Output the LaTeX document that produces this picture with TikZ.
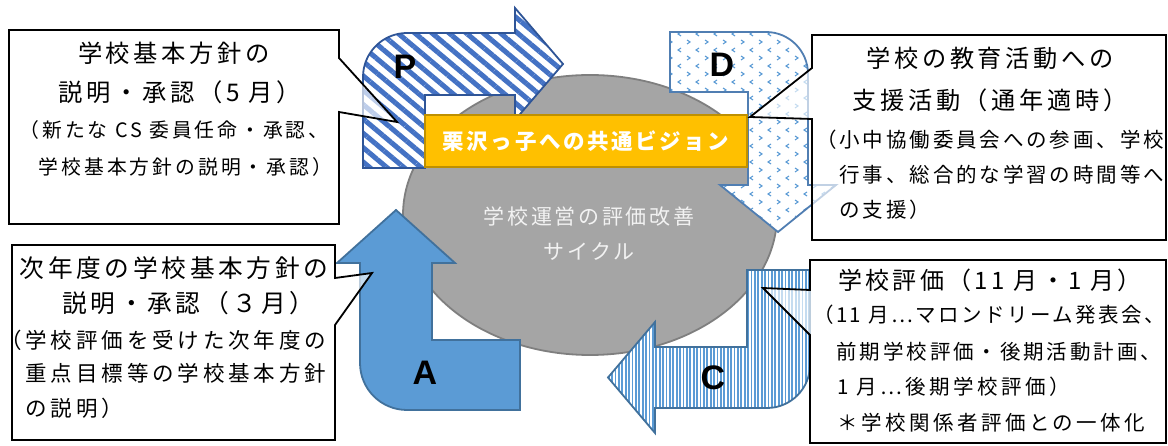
\documentclass[tikz,border=0pt]{standalone}
\usepackage{fontspec}
\newfontfamily\jp{Noto Sans CJK JP}
\newfontfamily\lat{Liberation Sans}
\usetikzlibrary{patterns,patterns.meta,shapes.geometric}

\pgfdeclarepatternformonly{divot}{\pgfqpoint{-1pt}{-1pt}}{\pgfqpoint{19pt}{17pt}}{\pgfqpoint{18pt}{16pt}}{%
  \pgfsetlinewidth{1.1pt}%
  \pgfpathmoveto{\pgfqpoint{3pt}{6pt}}\pgfpathlineto{\pgfqpoint{6pt}{4pt}}\pgfpathlineto{\pgfqpoint{3pt}{2pt}}%
  \pgfpathmoveto{\pgfqpoint{15pt}{14pt}}\pgfpathlineto{\pgfqpoint{12pt}{12pt}}\pgfpathlineto{\pgfqpoint{15pt}{10pt}}%
  \pgfusepath{stroke}}

\newcommand\jline[3]{\jp\fontsize{#1}{#1}\selectfont\addfontfeature{LetterSpace=#2}#3}
\newcommand\jbold[3]{\jp\bfseries\fontsize{#1}{#1}\selectfont\addfontfeature{LetterSpace=#2}#3}

\definecolor{pblue}{RGB}{68,114,196}
\definecolor{pline}{RGB}{47,85,151}
\definecolor{lblue}{RGB}{91,155,213}
\definecolor{aline}{RGB}{65,113,156}
\definecolor{dline}{RGB}{80,126,178}
\definecolor{ellfill}{RGB}{165,165,165}
\definecolor{elldraw}{RGB}{127,127,127}
\definecolor{gold}{RGB}{255,192,0}
\definecolor{golddk}{RGB}{191,144,0}
\definecolor{txtgray}{RGB}{242,242,242}

\begin{document}
\begin{tikzpicture}[x=1pt,y=-1pt,
  arrowline/.style={line width=1.8pt, line join=miter},
  callout/.style={draw=black, line width=1.8pt, fill=white, fill opacity=0.65, line join=miter},
  tl/.style={anchor=base, inner sep=0pt},
  tlw/.style={anchor=base west, inner sep=0pt},
  letter/.style={font=\lat\bfseries\fontsize{34}{34}\selectfont, inner sep=0pt},
  bannerbox/.style={draw=golddk, fill=gold, line width=2pt, minimum width=322pt, minimum height=52pt, inner sep=0pt, text=white}]
\useasboundingbox (0,0) rectangle (1168,446);

% central ellipse
\node[ellipse, fill=ellfill, draw=elldraw, line width=1.8pt, minimum width=374pt, minimum height=280pt, inner sep=0pt] (ell) at (590,215) {};

% P arrow
\draw[arrowline, draw=pline, preaction={fill=white},
      pattern={Lines[angle=-40,distance=11pt,line width=5pt]}, pattern color=pblue]
  (363,168) -- (363,77) .. controls (363,52.7) and (382.7,33) .. (407,33) -- (515,33) -- (515,8)
  -- (563,64) -- (515,120) -- (515,95) -- (425,95) -- (425,168) -- cycle;

% D arrow
\draw[arrowline, draw=dline, preaction={fill=white}, pattern=divot, pattern color=lblue]
  (670,32) -- (766,32) .. controls (789.2,32) and (808,50.8) .. (808,74) -- (808,185) -- (836,185)
  -- (778,232) -- (720,185) -- (748,185) -- (748,92) -- (670,92) -- cycle;

% A arrow
\draw[arrowline, draw=aline, fill=lblue]
  (396,210) -- (455,263) -- (432,263) -- (432,340) -- (520,340) -- (520,410) -- (407,410)
  .. controls (381,410) and (360,389) .. (360,363) -- (360,263) -- (337,263) -- cycle;

% C arrow
\draw[arrowline, draw=aline, preaction={fill=white},
      pattern={Lines[angle=90,distance=3.4pt,line width=1.8pt]}, pattern color=lblue]
  (747,270) -- (810,270) -- (810,365) .. controls (810,388.7) and (790.7,408) .. (767,408)
  -- (655,408) -- (655,433) -- (608,377.5) -- (655,322) -- (655,347) -- (747,347) -- cycle;

% banner
\node[bannerbox] (bn) at (586,141) {\jbold{21.5}{12}{栗沢っ子への共通ビジョン}};

% ellipse text
\node[tl, text=txtgray] (e1) at (589,225) {\jline{21}{13}{学校運営の評価改善}};
\node[tl, text=txtgray] (e2) at (589,260) {\jline{21}{13}{サイクル}};

% letters
\node[letter] (lp) at (405,67) {P};
\node[letter] (ld) at (722,65) {D};
\node[letter] (la) at (425,373) {A};
\node[letter] (lc) at (713,378) {C};

% callouts
\draw[callout] (9,30) -- (339,30) -- (339,58) -- (397,122) -- (339,112) -- (339,224) -- (9,224) -- cycle;
\draw[callout] (12,245) -- (335,245) -- (335,278) -- (372,273) -- (335,325) -- (335,440) -- (12,440) -- cycle;
\draw[callout] (812,35) -- (1166,35) -- (1166,240) -- (812,240) -- (812,119) -- (750,117) -- (812,68) -- cycle;
\draw[callout] (810,260) -- (1166,260) -- (1166,443) -- (810,443) -- (810,335) -- (763,288) -- (810,290) -- cycle;

% P callout text
\node[tl] (p1) at (174,62.2) {\jline{24.3}{15}{学校基本方針の}};
\node[tl] (p2) at (180,101.2) {\jline{24.3}{15}{説明・承認（5 月）}};
\node[tl] (p3) at (174,137.5) {\jline{19.8}{15}{（新たな CS 委員任命・承認、}};
\node[tl] (p4) at (174,174.5) {\jline{19.8}{15}{　学校基本方針の説明・承認）}};

% A callout text
\node[tl] (a1) at (174,277.4) {\jline{24.7}{15}{次年度の学校基本方針の}};
\node[tl] (a2) at (174,312.4) {\jline{24.7}{15}{　説明・承認（３月）}};
\node[tlw] (a3) at (0,348.2) {\jline{21.5}{18}{（学校評価を受けた次年度の}};
\node[tlw] (a4) at (0,381.2) {\jline{21.5}{18}{　重点目標等の学校基本方針}};
\node[tlw] (a5) at (0,416.2) {\jline{21.5}{18}{　の説明）}};

% D callout text
\node[tl] (d1) at (990,67.2) {\jline{24.2}{15}{学校の教育活動への}};
\node[tl] (d2) at (990,109.2) {\jline{24.2}{15}{支援活動（通年適時）}};
\node[tlw] (d3) at (816,147.8) {\jline{20.5}{14}{（小中協働委員会への参画、学校}};
\node[tlw] (d4) at (816,182.8) {\jline{20.5}{14}{　行事、総合的な学習の時間等へ}};
\node[tlw] (d5) at (816,217.8) {\jline{20.5}{14}{　の支援）}};

% C callout text
\node[tl] (c1) at (990,289.1) {\jline{24}{14}{学校評価（11 月・1 月）}};
\node[tlw] (c2) at (813,322.8) {\jline{20.5}{12}{（11 月⋯マロンドリーム発表会、}};
\node[tlw] (c3) at (813,359.8) {\jline{20.5}{14}{　前期学校評価・後期活動計画、}};
\node[tlw] (c4) at (813,394.8) {\jline{20.5}{17}{　1 月⋯後期学校評価）}};
\node[tlw] (c5) at (813,430.8) {\jline{20.5}{17}{　＊学校関係者評価との一体化}};
\end{tikzpicture}
\end{document}
